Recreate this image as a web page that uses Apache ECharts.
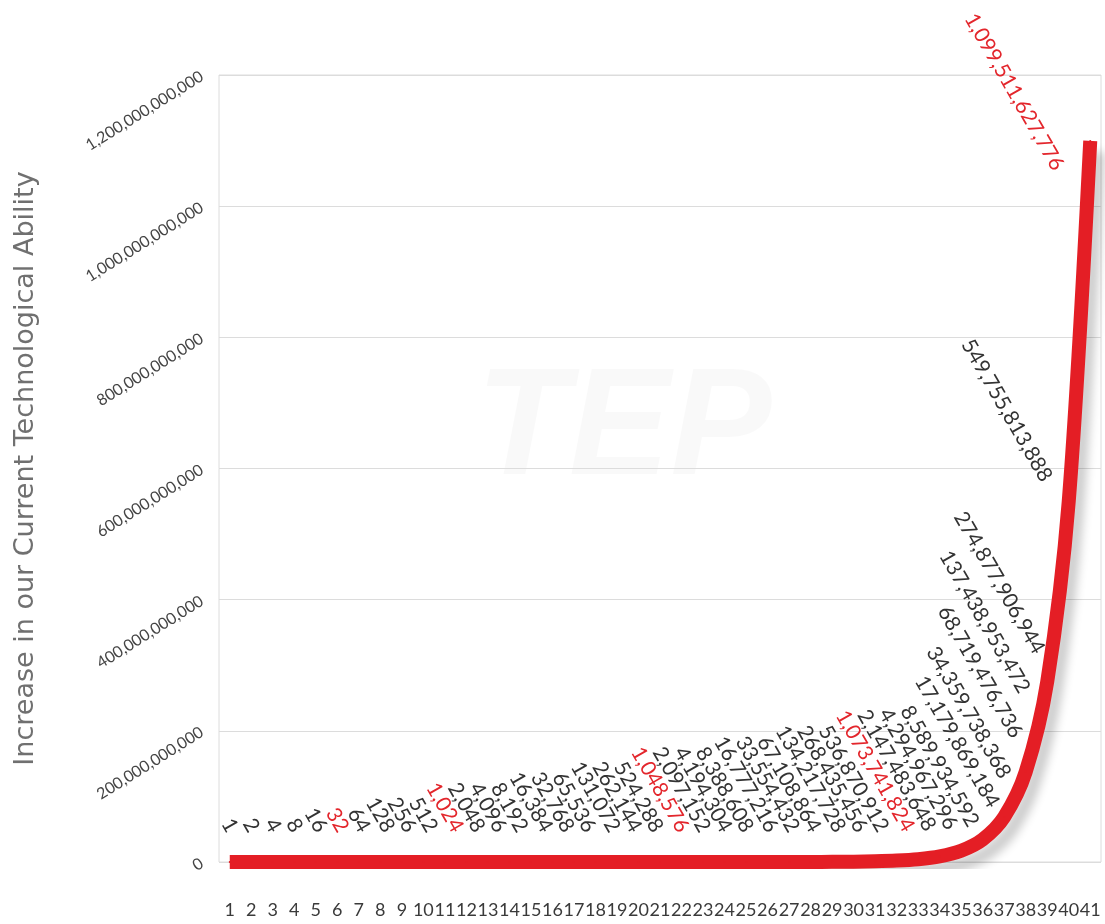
<!DOCTYPE html>
<html>
<head>
<meta charset="utf-8">
<script src="https://cdn.jsdelivr.net/npm/echarts@6/dist/echarts.min.js"></script>
<style>
  html, body { margin: 0; padding: 0; background: #fff; }
  #chart { width: 1105px; height: 924px; }
</style>
</head>
<body>
<div id="chart"></div>
<script>
// ---- data ----
const categories = ['1','2','3','4','5','6','7','8','9','10','11','12','13','14','15','16','17','18','19','20',
  '21','22','23','24','25','26','27','28','29','30','31','32','33','34','35','36','37','38','39','40','41'];
const values = [1, 2, 4, 8, 16, 32, 64, 128, 256, 512, 1024, 2048, 4096, 8192, 16384, 32768, 65536,
  131072, 262144, 524288, 1048576, 2097152, 4194304, 8388608, 16777216, 33554432, 67108864,
  134217728, 268435456, 536870912, 1073741824, 2147483648, 4294967296, 8589934592,
  17179869184, 34359738368, 68719476736, 137438953472, 274877906944, 549755813888, 1099511627776];
const highlightValues = [32, 1024, 1048576, 1073741824, 1099511627776];
const yMin = 0, yMax = 1200000000000, yInterval = 200000000000;
const yAxisTitle = 'Increase in our Current Technological Ability';

// ---- label placement (style) ----
const LABEL_FONT_SIZE = 21;
const LABEL_FONT = 'Lato';
const labelNudge = { 34: [-4, -109], 35: [-14, -127], 36: [-24, -145], 37: [-41, -150],
                     38: [-48, -99], 39: [-62, -91], 40: [-76, -49] };
const ctx = document.createElement('canvas').getContext('2d');
ctx.font = LABEL_FONT_SIZE + 'px ' + LABEL_FONT;
const fmt = v => echarts.format.addCommas(v);
const SYM = 2;
const ang = 60 * Math.PI / 180;

const seriesData = values.map((v, i) => {
  const txt = fmt(v);
  let c;
  if (labelNudge[i]) {
    c = labelNudge[i];
  } else {
    const L = ctx.measureText(txt).width;
    const H = 17;
    const half = (L * Math.sin(ang) + H * Math.cos(ang)) / 2;
    c = [0, -(27 + half)];
  }
  return {
    value: v,
    label: {
      position: [SYM / 2 + c[0], SYM / 2 + c[1]],
      color: highlightValues.indexOf(v) >= 0 ? '#e3262c' : '#333333'
    }
  };
});

const chart = echarts.init(document.getElementById('chart'));
chart.setOption({
  animation: false,
  backgroundColor: '#ffffff',
  graphic: [{
    type: 'text', left: 476, top: 356, z: -10, silent: true,
    style: { text: 'TEP', font: 'italic bold 152px "Liberation Sans"', fill: 'rgba(0,0,0,0.025)' }
  }],
  grid: { left: 219, right: 4, top: 75, bottom: 62, show: true, borderColor: '#dcdcdc', borderWidth: 1,
          containLabel: false, outerBoundsMode: 'none' },
  xAxis: {
    type: 'category', data: categories, boundaryGap: true,
    axisLine: { show: false }, axisTick: { show: false },
    axisLabel: { interval: 0, margin: 39, color: '#3a3a3a', fontSize: 18, fontFamily: 'Lato' }
  },
  yAxis: {
    type: 'value', min: yMin, max: yMax, interval: yInterval,
    name: yAxisTitle, nameLocation: 'middle', nameGap: 180,
    nameTextStyle: { fontSize: 27, color: '#707070', fontFamily: "'DejaVu Sans'" },
    axisLine: { show: false }, axisTick: { show: false },
    splitLine: { lineStyle: { color: '#dcdcdc', width: 1 } },
    axisLabel: { rotate: 32, margin: 17, color: '#444', fontSize: 16, fontFamily: 'Lato',
                 formatter: v => fmt(v) }
  },
  series: [{
    type: 'line', data: seriesData,
    smooth: 0.3,
    symbol: 'circle', symbolSize: SYM, showSymbol: true,
    itemStyle: { color: '#e41e25' },
    lineStyle: { color: '#e41e25', width: 14, cap: 'butt', join: 'round',
                 shadowColor: 'rgba(0,0,0,0.2)', shadowBlur: 10, shadowOffsetX: 8, shadowOffsetY: 11 },
    label: {
      show: true, rotate: -60, align: 'center', verticalAlign: 'middle',
      fontSize: LABEL_FONT_SIZE, fontFamily: LABEL_FONT,
      formatter: p => fmt(p.value)
    },
    emphasis: { disabled: true }
  }]
});
</script>
</body>
</html>
